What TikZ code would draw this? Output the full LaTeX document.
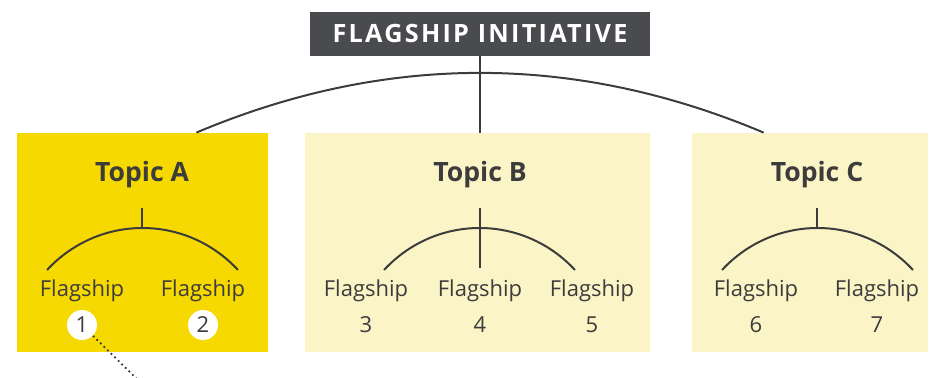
\documentclass[tikz,border=0pt]{standalone}
\usepackage{fontspec}
\setmainfont{Open Sans}
\usepackage{xcolor}
\usetikzlibrary{positioning, calc}

\definecolor{headgray}{HTML}{4A4B4E}
\definecolor{topicyellow}{HTML}{F6D900}
\definecolor{paleyellow}{HTML}{FBF4C6}
\definecolor{inkgray}{HTML}{3C3C3C}

\begin{document}
\begin{tikzpicture}[
        x=0.5pt, y=-0.5pt,
        header/.style={rectangle, fill=headgray, text=white, inner sep=0pt,
            minimum width=170pt, minimum height=22pt,
            font=\bfseries\fontsize{12.6}{14}\selectfont\addfontfeature{LetterSpace=9}},
        topicbox/.style={rectangle, fill=paleyellow, inner sep=0pt, minimum height=109.5pt},
        topic/.style={anchor=base, text=inkgray, font=\bfseries\fontsize{13.3}{15}\selectfont},
        flag/.style={anchor=base, text=inkgray, font=\fontsize{11}{13}\selectfont},
        num/.style={anchor=base, text=inkgray, font=\fontsize{11}{13}\selectfont},
        badge/.style={circle, fill=white, text=inkgray, inner sep=0pt, minimum size=15pt,
            font=\fontsize{11}{13}\selectfont},
        link/.style={draw=inkgray, line width=1pt}
    ]
        \useasboundingbox (0,0) rectangle (930,378);

        \node[header] (head) at (480,34) {FLAGSHIP INITIATIVE};

        \node[topicbox, fill=topicyellow, minimum width=125.5pt] (boxA) at (142.5,242.5) {};
        \node[topicbox, minimum width=172.5pt] (boxB) at (477.5,242.5) {};
        \node[topicbox, minimum width=118pt] (boxC) at (810,242.5) {};

        \node[topic] (topicA) at (142,182) {Topic A};
        \node[topic] (topicB) at (480,182) {Topic B};
        \node[topic] (topicC) at (817,182) {Topic C};

        % Top level
        \coordinate (arcA) at ($(boxA.north east)+(-72,0)$);
        \coordinate (arcC) at ($(boxC.north west)+(72,0)$);
        \draw[link] (head.south) -- (head.south |- boxB.north);
        \draw[link] (arcA) .. controls (385,53) and (575,53) .. (arcC);

        % Topic A
        \coordinate (stemA) at (142,208);
        \coordinate (topA) at (142,228);
        \coordinate (leftA) at (47,270);
        \coordinate (rightA) at (238,270);
        \draw[link] (stemA) -- (topA);
        \draw[link] (leftA) .. controls (99,214) and (186,214) .. (rightA);
        \node[flag] (fA1) at (82,297) {Flagship};
        \node[flag] (fA2) at (203,297) {Flagship};
        \node[badge] (n1) at (82,325) {1};
        \node[badge] (n2) at (203,325) {2};
        \coordinate (dotend) at (140,382);
        \draw[inkgray, line width=0.9pt, dash pattern=on 0.9pt off 1.6pt] (n1) -- (dotend);

        % Topic B
        \coordinate (stemB) at (480,208);
        \coordinate (footB) at (480,268);
        \coordinate (leftB) at (384,270);
        \coordinate (rightB) at (575,270);
        \draw[link] (stemB) -- (footB);
        \draw[link] (leftB) .. controls (436,214) and (523,214) .. (rightB);
        \node[flag] (fB3) at (366,297) {Flagship};
        \node[flag] (fB4) at (480,297) {Flagship};
        \node[flag] (fB5) at (592,297) {Flagship};
        \node[num] (n3) at (366,333) {3};
        \node[num] (n4) at (480,333) {4};
        \node[num] (n5) at (592,333) {5};

        % Topic C
        \coordinate (stemC) at (817,208);
        \coordinate (topC) at (817,228);
        \coordinate (leftC) at (722,270);
        \coordinate (rightC) at (913,270);
        \draw[link] (stemC) -- (topC);
        \draw[link] (leftC) .. controls (774,214) and (861,214) .. (rightC);
        \node[flag] (fC6) at (756,297) {Flagship};
        \node[flag] (fC7) at (877,297) {Flagship};
        \node[num] (n6) at (756,333) {6};
        \node[num] (n7) at (877,333) {7};

    \end{tikzpicture}
\end{document}
